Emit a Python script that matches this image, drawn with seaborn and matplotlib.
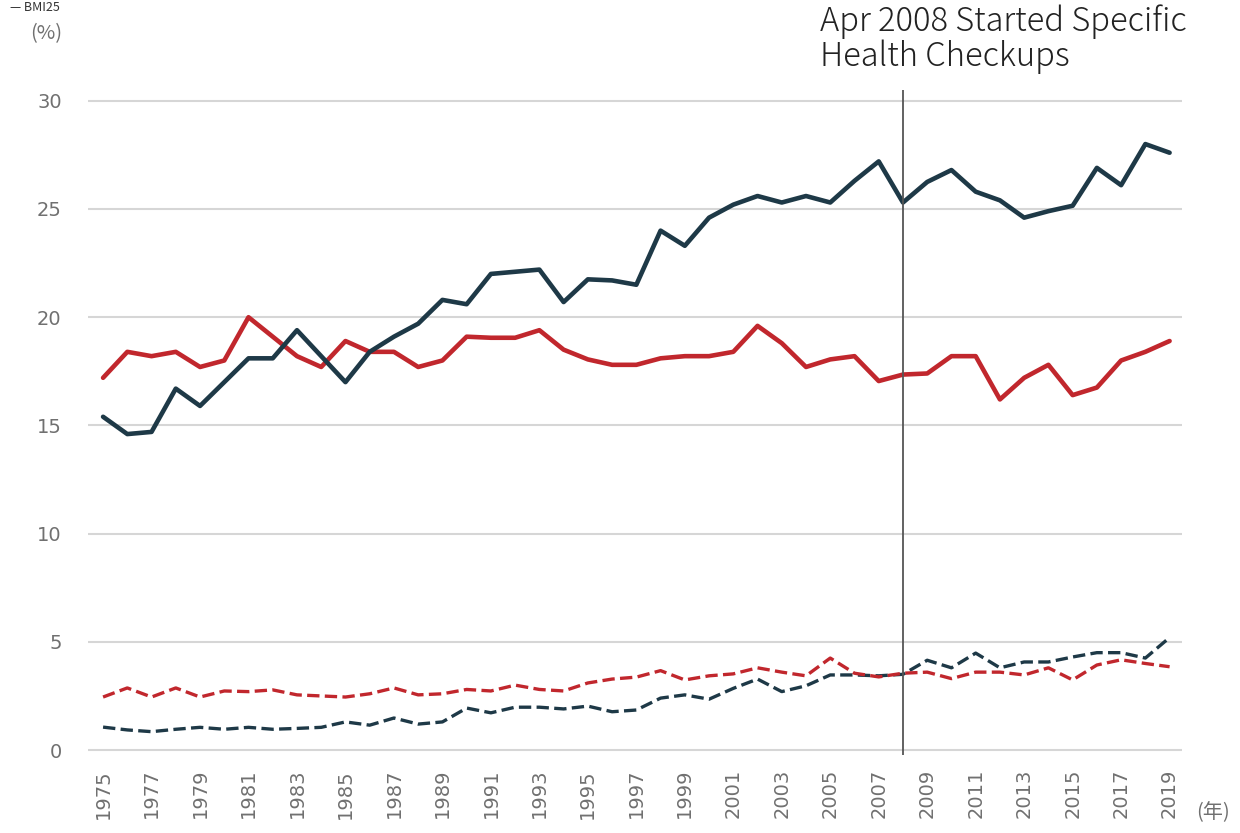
import numpy as np
import pandas as pd
import seaborn as sns
import matplotlib.pyplot as plt

# Years 1975-2019
years = list(range(1975, 2020))

# Solid navy line
navy_solid = [15.4, 14.6, 14.7, 16.7, 15.9, 17.0, 18.1, 18.1, 19.4, 18.2,
              17.0, 18.4, 19.1, 19.7, 20.8, 20.6, 22.0, 22.1, 22.2, 20.7,
              21.75, 21.7, 21.5, 24.0, 23.3, 24.6, 25.2, 25.6, 25.3, 25.6,
              25.3, 26.3, 27.2, 25.3, 26.25, 26.8, 25.8, 25.4, 24.6, 24.9,
              25.15, 26.9, 26.1, 28.0, 27.6]
# Solid red line
red_solid = [17.2, 18.4, 18.2, 18.4, 17.7, 18.0, 20.0, 19.1, 18.2, 17.7,
             18.9, 18.4, 18.4, 17.7, 18.0, 19.1, 19.05, 19.05, 19.4, 18.5,
             18.05, 17.8, 17.8, 18.1, 18.2, 18.2, 18.4, 19.6, 18.8, 17.7,
             18.05, 18.2, 17.05, 17.35, 17.4, 18.2, 18.2, 16.2, 17.2, 17.8,
             16.4, 16.75, 18.0, 18.4, 18.9]
# Dashed navy line
navy_dashed = [1.06, 0.93, 0.85, 0.96, 1.05, 0.96, 1.05, 0.96, 1.0, 1.05,
               1.3, 1.15, 1.48, 1.2, 1.3, 1.94, 1.72, 1.98, 1.98, 1.9,
               2.03, 1.77, 1.85, 2.4, 2.55, 2.35, 2.85, 3.28, 2.7, 2.97,
               3.47, 3.47, 3.43, 3.5, 4.15, 3.8, 4.48, 3.8, 4.07, 4.07,
               4.3, 4.5, 4.5, 4.25, 5.2]
# Dashed red line
red_dashed = [2.45, 2.87, 2.45, 2.87, 2.45, 2.73, 2.7, 2.78, 2.55, 2.5,
              2.45, 2.6, 2.87, 2.55, 2.6, 2.8, 2.73, 3.0, 2.8, 2.73,
              3.1, 3.28, 3.37, 3.67, 3.24, 3.43, 3.52, 3.8, 3.6, 3.43,
              4.25, 3.55, 3.38, 3.55, 3.6, 3.3, 3.6, 3.6, 3.47, 3.8,
              3.24, 3.93, 4.17, 4.0, 3.85]

y_ticks = [0, 5, 10, 15, 20, 25, 30]
x_ticks = list(range(1975, 2020, 2))

navy = '#1e3947'
red = '#c1272d'

sns.set_theme(style="white")
plt.rcParams['font.family'] = ['Noto Sans CJK JP', 'DejaVu Sans']

fig = plt.figure(figsize=(12.4, 8.33), dpi=100)
ax = fig.add_axes([0.071, 0.0936, 0.882, 0.7984])

# Draw the four series
series = [
    (navy_dashed, navy, '--', 2.4),
    (red_dashed, red, '--', 2.4),
    (red_solid, red, '-', 3.3),
    (navy_solid, navy, '-', 3.3),
]
for values, color, style, width in series:
    df = pd.DataFrame({'year': years, 'value': values})
    sns.lineplot(data=df, x='year', y='value', color=color, linestyle=style,
                 linewidth=width, ax=ax, zorder=3)

# Grid and limits
for y in y_ticks:
    ax.axhline(y, color='#d6d6d6', linewidth=1.5, zorder=1)
ax.set_xlim(1974.38, 2019.5)
ax.set_ylim(-0.23, 30.5)
ax.set_yticks(y_ticks)
ax.set_xticks(x_ticks)
ax.set_xticklabels([str(x) for x in x_ticks], rotation=90)
ax.tick_params(axis='both', length=0, labelsize=14, labelcolor='#707070')
ax.tick_params(axis='y', pad=19)
ax.tick_params(axis='x', pad=10)
for lbl in ax.get_xticklabels() + ax.get_yticklabels():
    lbl.set_fontfamily('DejaVu Sans')
ax.set_xlabel('')
ax.set_ylabel('')
for spine in ax.spines.values():
    spine.set_visible(False)

# Start of specific health checkups
ax.axvline(2008, color='#555555', linewidth=1.3, zorder=4)
fig.text(0.661, 0.995, 'Apr 2008 Started Specific\nHealth Checkups',
         fontsize=23.5, fontweight='light', color='#222222', va='top',
         ha='left', linespacing=1.02)

# Units
fig.text(0.037, 0.96, '(%)', fontsize=14.5, color='#707070', ha='center', va='center')
fig.text(0.978, 0.025, '(年)', fontsize=14.5, color='#707070', ha='center', va='center')
fig.text(0.008, 0.999, '— BMI25', fontsize=9, color='#333333', ha='left', va='top')

fig.savefig('out.png', dpi=100)
